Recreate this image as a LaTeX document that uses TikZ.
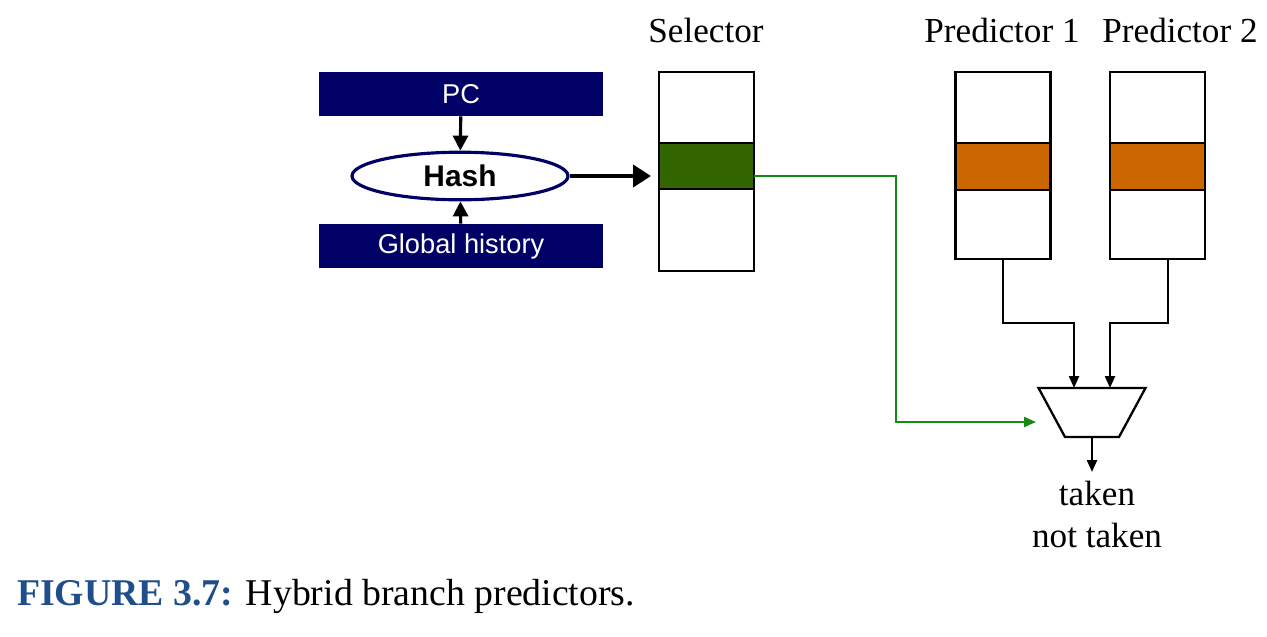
\documentclass[tikz,border=0pt]{standalone}
\usepackage{fontspec}
\setmainfont{Liberation Serif}
\setsansfont{Liberation Sans}
\usepackage{xcolor}
\usetikzlibrary{shapes.geometric, arrows.meta, positioning}
\definecolor{regnavy}{RGB}{0,0,102}
\definecolor{selgreen}{RGB}{51,102,0}
\definecolor{predorange}{RGB}{204,102,0}
\definecolor{wiregreen}{RGB}{20,140,20}
\definecolor{capblue}{RGB}{31,78,140}
\tikzstyle{reg} = [rectangle, minimum width=5.68cm, minimum height=0.88cm, fill=regnavy, text=white, font=\sffamily\fontsize{15.5}{18}\selectfont]
\tikzstyle{hashop} = [ellipse, minimum width=4.32cm, minimum height=0.94cm, draw=regnavy, line width=1.8pt, fill=white, font=\sffamily\bfseries\fontsize{17}{20}\selectfont]
\tikzstyle{cell} = [rectangle, minimum width=1.9cm, draw=black, line width=1.3pt, outer sep=0pt, fill=white]
\tikzstyle{tabtitle} = [font=\fontsize{20}{24}\selectfont]
\tikzstyle{muxshape} = [trapezium, shape border rotate=180, trapezium angle=61.6, inner xsep=0.54cm, inner ysep=0.49cm, draw=black, line width=1.3pt]
\tikzstyle{arrow} = [line width=1.3pt, -{Triangle[length=0.24cm, width=0.2cm]}]
\tikzstyle{regarrow} = [line width=1.8pt, -{Triangle[length=0.3cm, width=0.3cm]}]
\tikzstyle{bigarrow} = [line width=2.3pt, -{Triangle[length=0.36cm, width=0.44cm]}]
\tikzstyle{selwire} = [line width=1.2pt, draw=wiregreen, -{Triangle[length=0.24cm, width=0.2cm]}]

\begin{document}
\begin{tikzpicture}[x=0.02cm, y=-0.02cm]
        \useasboundingbox (0,0) rectangle (1267,636);
        % Nodes
        \node (pc) [reg] at (461,94) {PC};
        \node (hash) [hashop] at (460,176) {Hash};
        \node (gh) [reg] at (461,246) {Global history};

        % Selector table
        \node (selt) [cell, minimum height=1.42cm] at (706.5,107.5) {};
        \node (selm) [cell, minimum height=0.92cm, fill=selgreen, below=0pt of selt] {};
        \node (selb) [cell, minimum height=1.64cm, below=0pt of selm] {};
        \node (seltitle) [tabtitle, anchor=base] at (706,42) {Selector};

        % Predictor tables
        \node (p1t) [cell, minimum height=1.42cm] at (1003,107.5) {};
        \node (p1m) [cell, minimum height=0.94cm, fill=predorange, below=0pt of p1t] {};
        \node (p1b) [cell, minimum height=1.38cm, below=0pt of p1m] {};
        \node (p1title) [tabtitle, anchor=base] at (1002,42) {Predictor 1};

        \node (p2t) [cell, minimum height=1.42cm] at (1157.5,107.5) {};
        \node (p2m) [cell, minimum height=0.94cm, fill=predorange, below=0pt of p2t] {};
        \node (p2b) [cell, minimum height=1.38cm, below=0pt of p2m] {};
        \node (p2title) [tabtitle, anchor=base] at (1180,42) {Predictor 2};

        % Chooser and outcome
        \node (mux) [muxshape] at (1092,412.5) {};
        \coordinate (muxin) at (1036,422);
        \node (out) [tabtitle, align=center, anchor=north, inner sep=5pt] at (1097,472) {taken\\not taken};

        \node (caption) [anchor=base west, font=\fontsize{21.5}{26}\selectfont] at (11,605) {\textcolor{capblue}{\bfseries FIGURE 3.7:} Hybrid branch predictors.};

        % Arrows
        \draw [regarrow] (pc) -- (hash);
        \draw [regarrow] (gh) -- (hash);
        \draw [bigarrow, shorten >=0.16cm] (hash.east) -- (hash.east -| selm.west);

        % select line
        \draw [selwire] (selm.east |- hash.east) -- ++(142,0) |- (muxin);

        \draw [arrow] (p1b.south) -- ++(0,64) -| ([xshift=-0.36cm, yshift=0.49cm]mux.center);
        \draw [arrow] ([xshift=0.21cm]p2b.south) -- ++(0,64) -| ([xshift=0.36cm, yshift=0.49cm]mux.center);
        \draw [arrow] ([yshift=-0.49cm]mux.center) -- (mux.center |- out.north);
    \end{tikzpicture}
\end{document}
